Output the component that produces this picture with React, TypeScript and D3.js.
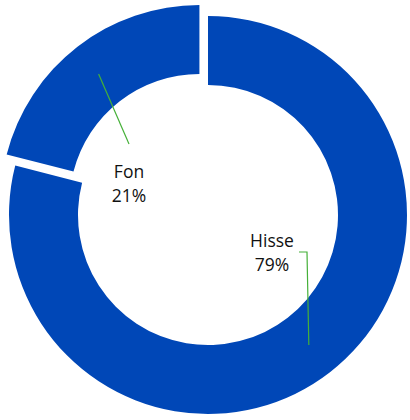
import React, { useRef, useEffect } from "react";
import * as d3 from "d3";

const categories = ["Hisse", "Fon"];
const values = [79, 21];
const labels = ["79%", "21%"];

const App = () => {
  const svgRef = useRef<SVGSVGElement>(null);

  useEffect(() => {
    const width = 410;
    const height = 420;
    const cx = 208;
    const cy = 215;
    const outer = 199;
    const inner = 130;
    const explode = 14;
    const blue = "#0047b7";
    const green = "#45b038";

    const svg = d3.select(svgRef.current);
    svg.selectAll("*").remove();
    svg.attr("width", width).attr("height", height);

    const pie = d3
      .pie<number>()
      .sort(null)
      .value((d) => d);
    const arcs = pie(values);

    const arc = d3
      .arc<d3.PieArcDatum<number>>()
      .innerRadius(inner)
      .outerRadius(outer);

    const g = svg.append("g").attr("transform", `translate(${cx},${cy})`);

    // offset of the pulled-out slice (Fon)
    const offset = (d: d3.PieArcDatum<number>, i: number) => {
      if (i !== 1) return [0, 0];
      const mid = (d.startAngle + d.endAngle) / 2;
      return [Math.sin(mid) * explode, -Math.cos(mid) * explode];
    };

    g.selectAll("path.slice")
      .data(arcs)
      .enter()
      .append("path")
      .attr("class", "slice")
      .attr("d", (d) => arc(d) as string)
      .attr("transform", (d, i) => {
        const [dx, dy] = offset(d, i);
        return `translate(${dx},${dy})`;
      })
      .style("fill", blue);

    // label anchors relative to the centre (middle of the two text lines)
    const labelPos = [
      [64, 38],
      [-79, -31],
    ];

    arcs.forEach((d, i) => {
      const [dx, dy] = offset(d, i);
      const [px, py] = arc.centroid(d);
      const sx = px + dx;
      const sy = py + dy;
      const [lx, ly] = labelPos[i];
      let pts: [number, number][];
      if (i === 0) {
        pts = [
          [sx, sy],
          [lx + 35, ly - 1],
          [lx + 27, ly - 1],
        ];
      } else {
        pts = [
          [sx, sy],
          [lx, ly - 40],
        ];
      }
      g.append("path")
        .attr("d", d3.line()(pts) as string)
        .attr("fill", "none")
        .attr("stroke", green)
        .attr("stroke-width", 1.2);

      const t = g
        .append("text")
        .attr("text-anchor", "middle")
        .style("font-family", "'Open Sans', sans-serif")
        .style("font-size", "17.5px")
        .style("fill", "#111");
      t.append("tspan").attr("x", lx).attr("y", ly - 6).text(categories[i]);
      t.append("tspan").attr("x", lx).attr("y", ly + 18).text(labels[i]);
    });
  }, []);

  return (
    <svg
      ref={svgRef}
      style={{ position: "absolute", left: 0, top: 0, display: "block" }}
    ></svg>
  );
};

export default App;
